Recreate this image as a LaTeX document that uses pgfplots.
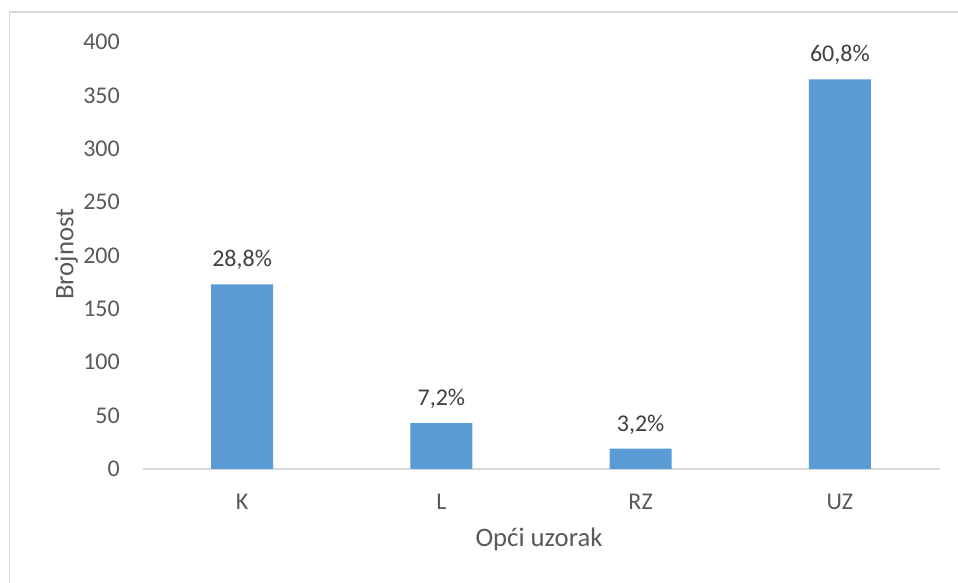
\documentclass[border=0pt]{standalone}
\usepackage{pgfplots}
\pgfplotsset{compat=1.18}
\usepackage{fontspec}
\setmainfont{Carlito}
\definecolor{barblue}{HTML}{5B9BD5}
\definecolor{ticktext}{HTML}{595959}
\definecolor{labeltext}{HTML}{404040}
\definecolor{axisgray}{HTML}{D9D9D9}
\begin{document}
\begin{tikzpicture}
\useasboundingbox (0,0) rectangle (958pt,583pt);
\fill[white] (0,0) rectangle (958pt,583pt);
\draw[axisgray, line width=1.5pt] (9.5pt,0pt) -- (9.5pt,571pt) -- (958pt,571pt);
\begin{axis}[
  at={(142.5pt,114pt)}, anchor=south west,
  scale only axis, width=797pt, height=427pt,
  xmin=-0.5, xmax=3.5, ymin=0, ymax=400,
  axis x line*=bottom, axis y line*=left,
  x axis line style={axisgray, line width=1.5pt},
  y axis line style={draw=none},
  xtick={0,1,2,3}, xticklabels={K,L,RZ,UZ},
  ytick={0,50,100,150,200,250,300,350,400},
  major tick length=0pt,
  tick style={draw=none},
  /pgf/number format/assume math mode=true,
  ticklabel style={font=\fontsize{24}{28}\selectfont, text=ticktext},
  yticklabel style={anchor=east, inner sep=0pt, xshift=-22.5pt},
  xticklabel style={anchor=base, inner sep=0pt, yshift=-40.3pt},
  ybar, bar width=62pt,
  nodes near coords={\pgfplotspointmeta},
  point meta=explicit symbolic,
  every node near coord/.append style={anchor=base, yshift=17.5pt, inner sep=0pt,
    font=\fontsize{24}{28}\selectfont, text=labeltext},
  clip=false,
]
\addplot[fill=barblue, draw=none] coordinates {
  (0,173) [28,8\%]
  (1,43) [7,2\%]
  (2,19) [3,2\%]
  (3,365) [60,8\%]
};
\end{axis}
\node[anchor=base, text=ticktext, font=\fontsize{26.7}{30}\selectfont] at (539pt,36.3pt) {Opći uzorak};
\node[anchor=base, rotate=90, text=ticktext, font=\fontsize{26.7}{30}\selectfont] at (73.3pt,329pt) {Brojnost};
\end{tikzpicture}
\end{document}
